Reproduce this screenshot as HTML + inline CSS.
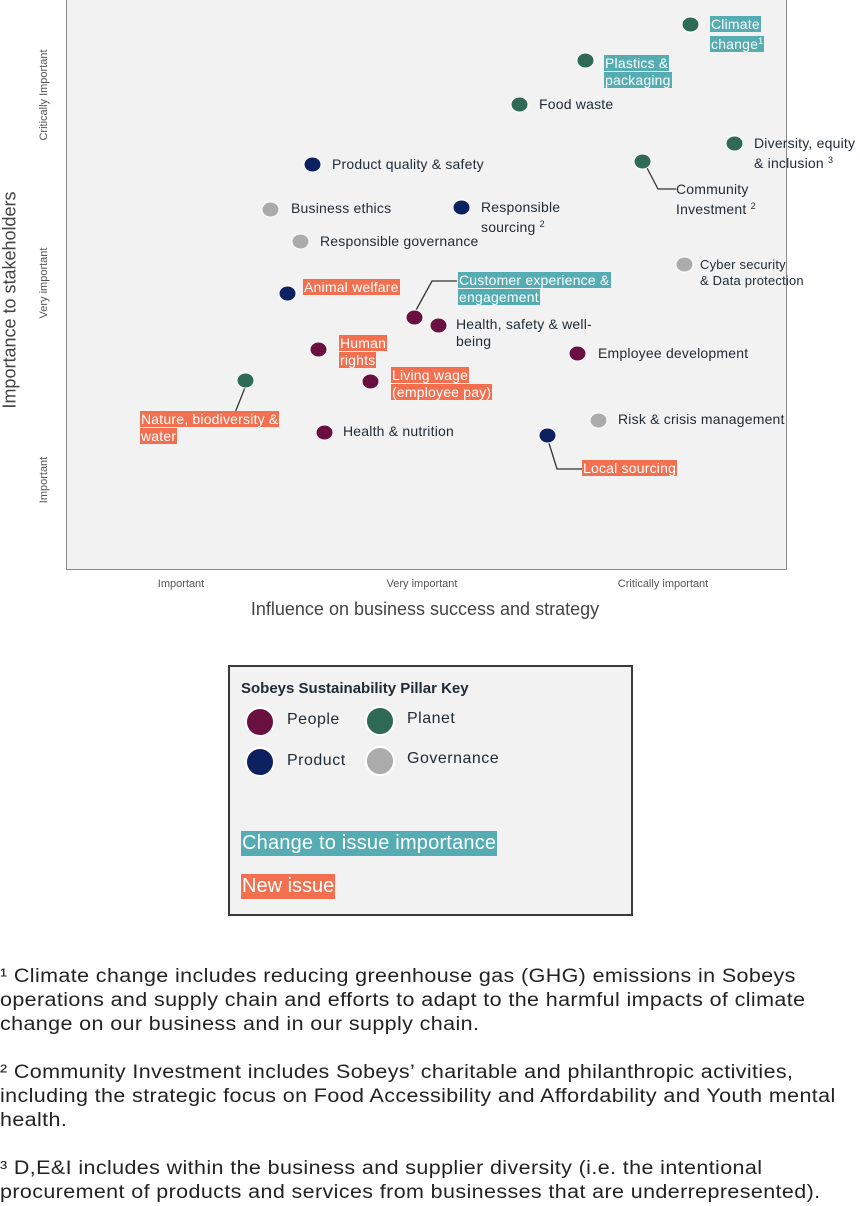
<!DOCTYPE html>
<html><head><meta charset="utf-8"><style>
body{margin:0;width:860px;height:1206px;background:#fff;position:relative;font-family:"Liberation Sans",sans-serif;color:#1e2a35;overflow:hidden}
.a{position:absolute;white-space:nowrap}
.plot{position:absolute;left:66px;top:-2px;width:719px;height:570px;background:#f2f2f2;border:1px solid #8a8a8a}
.d{position:absolute;width:16px;height:14px;border-radius:50%;border:1.5px solid #fff;transform:translate(-9.5px,-8.5px)}
.g{background:#2e6a55}.n{background:#0d2160}.p{background:#6a1040}.y{background:#ababab}
.t{position:absolute;font-size:14px;line-height:17px;white-space:nowrap;color:#1e2a35;letter-spacing:0.2px}
.hl{background:#55adb3;color:#fff}.hn{background:#f2704f;color:#fff}
.hl,.hn{padding:0 1px}
sup{font-size:9px;vertical-align:5px}
.rot{position:absolute;transform:translate(-50%,-50%) rotate(-90deg);white-space:nowrap;color:#555;font-size:11px}
.fn{position:absolute;left:0;font-size:19px;line-height:24px;color:#222;white-space:nowrap;letter-spacing:0.35px;transform:scaleX(1.13);transform-origin:0 0}
.lg{position:absolute;width:26px;height:26px;border-radius:50%;border:2px solid #fff;transform:translate(-15px,-15px)}
</style></head><body>
<div class="plot"></div>
<svg class="a" style="left:0;top:0" width="860" height="600">
<g stroke="#333" stroke-width="1.3" fill="none">
<polyline points="646,166 658,189 676,189"/>
<polyline points="415,312 432,281 457,281"/>
<polyline points="246,385 233,418 208,418"/>
<polyline points="548,440 557,469 583,469"/>
</g></svg>

<div class="d g" style="left:691px;top:25px"></div>
<div class="t" style="left:710px;top:16px"><span class="hl">Climate</span><br><span class="hl">change<sup>1</sup></span></div>
<div class="d g" style="left:586px;top:61px"></div>
<div class="t" style="left:604px;top:55px"><span class="hl">Plastics &amp;</span><br><span class="hl">packaging</span></div>
<div class="d g" style="left:520px;top:105px"></div>
<div class="t" style="left:539px;top:96px">Food waste</div>
<div class="d g" style="left:735px;top:144px"></div>
<div class="t" style="left:754px;top:135px">Diversity, equity<br>&amp; inclusion <sup>3</sup></div>
<div class="d g" style="left:643px;top:162px"></div>
<div class="t" style="left:676px;top:181px">Community<br>Investment <sup>2</sup></div>
<div class="d n" style="left:313px;top:165px"></div>
<div class="t" style="left:332px;top:156px">Product quality &amp; safety</div>
<div class="d y" style="left:271px;top:210px"></div>
<div class="t" style="left:291px;top:200px">Business ethics</div>
<div class="d n" style="left:462px;top:208px"></div>
<div class="t" style="left:481px;top:199px">Responsible<br>sourcing <sup>2</sup></div>
<div class="d y" style="left:301px;top:242px"></div>
<div class="t" style="left:320px;top:233px">Responsible governance</div>
<div class="d y" style="left:685px;top:265px"></div>
<div class="t" style="left:700px;top:257px;font-size:13px;line-height:16px">Cyber security<br>&amp; Data protection</div>
<div class="d n" style="left:288px;top:294px"></div>
<div class="t" style="left:303px;top:279px"><span class="hn">Animal welfare</span></div>
<div class="d p" style="left:415px;top:318px"></div>
<div class="t" style="left:458px;top:272px"><span class="hl">Customer experience &amp;</span><br><span class="hl">engagement</span></div>
<div class="d p" style="left:439px;top:326px"></div>
<div class="t" style="left:456px;top:316px">Health, safety &amp; well-<br>being</div>
<div class="d p" style="left:319px;top:350px"></div>
<div class="t" style="left:339px;top:335px"><span class="hn">Human</span><br><span class="hn">rights</span></div>
<div class="d p" style="left:578px;top:354px"></div>
<div class="t" style="left:598px;top:345px">Employee development</div>
<div class="d p" style="left:371px;top:382px"></div>
<div class="t" style="left:391px;top:367px"><span class="hn">Living wage</span><br><span class="hn">(employee pay)</span></div>
<div class="d g" style="left:246px;top:381px"></div>
<div class="t" style="left:140px;top:411px"><span class="hn">Nature, biodiversity &amp;</span><br><span class="hn">water</span></div>
<div class="d p" style="left:325px;top:433px"></div>
<div class="t" style="left:343px;top:423px">Health &amp; nutrition</div>
<div class="d y" style="left:599px;top:421px"></div>
<div class="t" style="left:618px;top:411px">Risk &amp; crisis management</div>
<div class="d n" style="left:548px;top:436px"></div>
<div class="t" style="left:582px;top:460px"><span class="hn">Local sourcing</span></div>

<div class="rot" style="left:10px;top:300px;font-size:18px;color:#444">Importance to stakeholders</div>
<div class="rot" style="left:44px;top:95px">Critically Important</div>
<div class="rot" style="left:44px;top:283px">Very important</div>
<div class="rot" style="left:44px;top:480px">Important</div>
<div class="a" style="left:181px;top:578px;font-size:11px;color:#555;transform:translateX(-50%)">Important</div>
<div class="a" style="left:422px;top:578px;font-size:11px;color:#555;transform:translateX(-50%)">Very important</div>
<div class="a" style="left:663px;top:578px;font-size:11px;color:#555;transform:translateX(-50%)">Critically important</div>
<div class="a" style="left:425px;top:599px;font-size:18px;color:#444;transform:translateX(-50%)">Influence on business success and strategy</div>

<div class="a" style="left:228px;top:665px;width:401px;height:247px;background:#f2f2f2;border:2px solid #3a3a3a"></div>
<div class="a" style="left:241px;top:680px;font-size:15px;font-weight:bold;color:#1e2a35">Sobeys Sustainability Pillar Key</div>
<div class="lg p" style="left:260px;top:722px"></div>
<div class="lg g" style="left:380px;top:721px"></div>
<div class="lg n" style="left:260px;top:762px"></div>
<div class="lg y" style="left:380px;top:761px"></div>
<div class="a" style="left:287px;top:711px;font-size:16px;letter-spacing:0.5px">People</div>
<div class="a" style="left:407px;top:710px;font-size:16px;letter-spacing:0.5px">Planet</div>
<div class="a" style="left:287px;top:752px;font-size:16px;letter-spacing:0.5px">Product</div>
<div class="a" style="left:407px;top:750px;font-size:16px;letter-spacing:0.5px">Governance</div>
<div class="a hl" style="left:241px;top:831px;height:25px;line-height:25px;font-size:20px;padding:0 1px;letter-spacing:0.2px">Change to issue importance</div>
<div class="a hn" style="left:241px;top:874px;height:25px;line-height:25px;font-size:20px;padding:0 1px">New issue</div>

<div class="fn" style="top:965px">¹ Climate change includes reducing greenhouse gas (GHG) emissions in Sobeys<br>operations and supply chain and efforts to adapt to the harmful impacts of climate<br>change on our business and in our supply chain.</div>
<div class="fn" style="top:1061px">² Community Investment includes Sobeys’ charitable and philanthropic activities,<br>including the strategic focus on Food Accessibility and Affordability and Youth mental<br>health.</div>
<div class="fn" style="top:1157px">³ D,E&amp;I includes within the business and supplier diversity (i.e. the intentional<br>procurement of products and services from businesses that are underrepresented).</div>
</body></html>
